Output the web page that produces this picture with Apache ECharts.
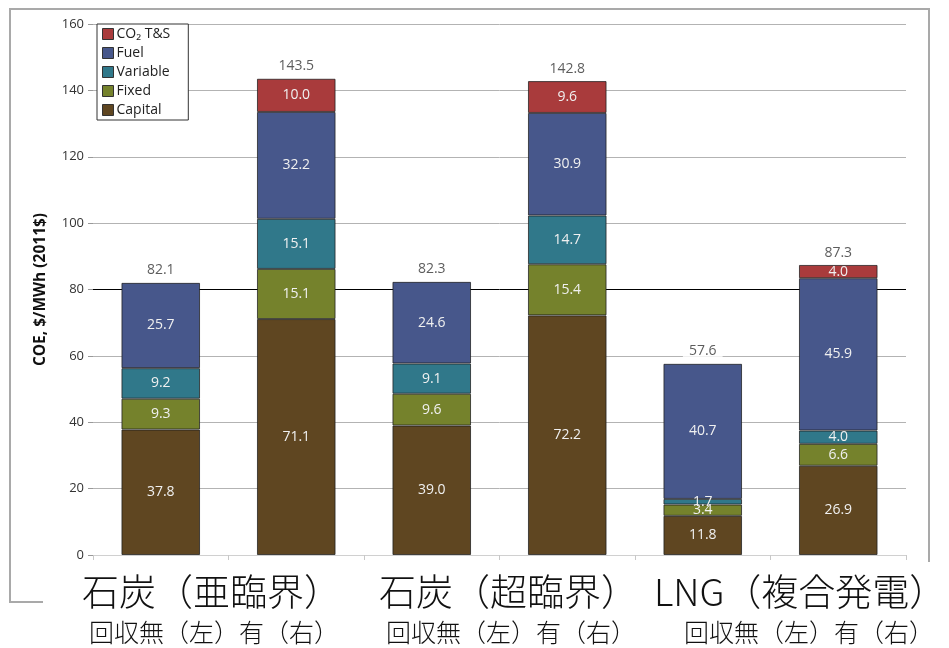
<!DOCTYPE html>
<html><head><meta charset="utf-8">
<script src="https://cdn.jsdelivr.net/npm/echarts@6/dist/echarts.min.js"></script>
<style>html,body{margin:0;padding:0;background:#fff}#c{width:949px;height:648px}</style>
</head><body><div id="c"></div>
<script>
const categories = ['亜臨界-無','亜臨界-有','超臨界-無','超臨界-有','LNG-無','LNG-有'];
const capital  = [37.8, 71.1, 39.0, 72.2, 11.8, 26.9];
const fixed    = [9.3, 15.1, 9.6, 15.4, 3.4, 6.6];
const variable = [9.2, 15.1, 9.1, 14.7, 1.7, 4.0];
const fuel     = [25.7, 32.2, 24.6, 30.9, 40.7, 45.9];
const co2      = [null, 10.0, null, 9.6, null, 4.0];
const totals   = [82.1, 143.5, 82.3, 142.8, 57.6, 87.3];
const yTicks   = [0, 20, 40, 60, 80, 100, 120, 140, 160];
const groupTitles = ['石炭（亜臨界）', '石炭（超臨界）', 'LNG（複合発電）'];
const groupSub = '回収無（左）有（右）';

const colors = {Capital:'#5f4621', Fixed:'#75822c', Variable:'#30788a', Fuel:'#47578b', 'CO₂ T&S':'#a93b3c'};
const chart = echarts.init(document.getElementById('c'));
const font = 'Open Sans';
function seg(name, data){
  return {
    name, type:'bar', stack:'coe', data, barWidth:'58%',
    itemStyle:{color:colors[name], borderColor:'rgba(30,30,30,0.75)', borderWidth:1},
    label:{show:true, position:'inside', color:'#f0f0f0', fontSize:14, fontFamily:font,
      formatter:p => p.value==null ? '' : Number(p.value).toFixed(1)}
  };
}
const splitColors = yTicks.map(v => v===80 ? '#000' : '#b3b3b3');
const jpBig = '300 37px "Noto Sans CJK JP"';
const jpSmall = '300 25px "Noto Sans CJK JP"';
const option = {
  animation:false,
  backgroundColor:'#fff',
  grid:{left:93, right:43, top:24, bottom:93},
  legend:{
    orient:'vertical', left:97, top:24, data:['CO₂ T&S','Fuel','Variable','Fixed','Capital'],
    itemWidth:11, itemHeight:11, itemGap:5, icon:'rect',
    backgroundColor:'#fff', borderColor:'#333', borderWidth:1, padding:[3,18,3,5],
    itemStyle:{borderColor:'#333', borderWidth:1},
    textStyle:{fontFamily:font, fontSize:14, color:'#222', padding:[0,0,0,-2]}
  },
  xAxis:{type:'category', data:categories,
    axisLine:{lineStyle:{color:'#d0d0d0', width:1}},
    axisTick:{show:true, length:5, lineStyle:{color:'#c8c8c8'}},
    axisLabel:{show:false}},
  yAxis:{type:'value', min:0, max:160, interval:20,
    name:'COE, $/MWh (2011$)', nameLocation:'middle', nameGap:44, nameRotate:90,
    nameTextStyle:{fontFamily:font, fontWeight:'bold', fontSize:15.5, color:'#111'},
    axisLine:{show:false},
    axisTick:{show:true, length:5, lineStyle:{color:'#999'}},
    axisLabel:{fontFamily:font, fontSize:13, color:'#333', margin:9},
    splitLine:{show:true, lineStyle:{color:splitColors, width:1}}},
  series:[
    seg('Capital', capital), seg('Fixed', fixed), seg('Variable', variable),
    seg('Fuel', fuel), seg('CO₂ T&S', co2),
    {name:'Total', type:'scatter', data:totals, symbolSize:1, itemStyle:{color:'transparent'},
     label:{show:true, position:'top', distance:4, fontFamily:font, fontSize:14, color:'#333',
       backgroundColor:'#fff', padding:[1,6], formatter:p => Number(p.value).toFixed(1)}, z:5}
  ],
  graphic:[
    {type:'polyline', shape:{points:[[43,602],[10,602],[10,9],[929,9],[929,562]]},
      style:{stroke:'#a9a9a9', lineWidth:2, fill:null}, silent:true},
    {type:'text', left:82, top:573, style:{text:groupTitles[0], font:jpBig, fill:'#111'}},
    {type:'text', left:379, top:573, style:{text:groupTitles[1], font:jpBig, fill:'#111'}},
    {type:'text', left:654, top:573, style:{text:groupTitles[2], font:jpBig, fill:'#111'}},
    {type:'text', left:89, top:620, style:{text:groupSub, font:jpSmall, fill:'#111'}},
    {type:'text', left:386, top:620, style:{text:groupSub, font:jpSmall, fill:'#111'}},
    {type:'text', left:684, top:620, style:{text:groupSub, font:jpSmall, fill:'#111'}}
  ]
};
chart.setOption(option);
</script></body></html>
